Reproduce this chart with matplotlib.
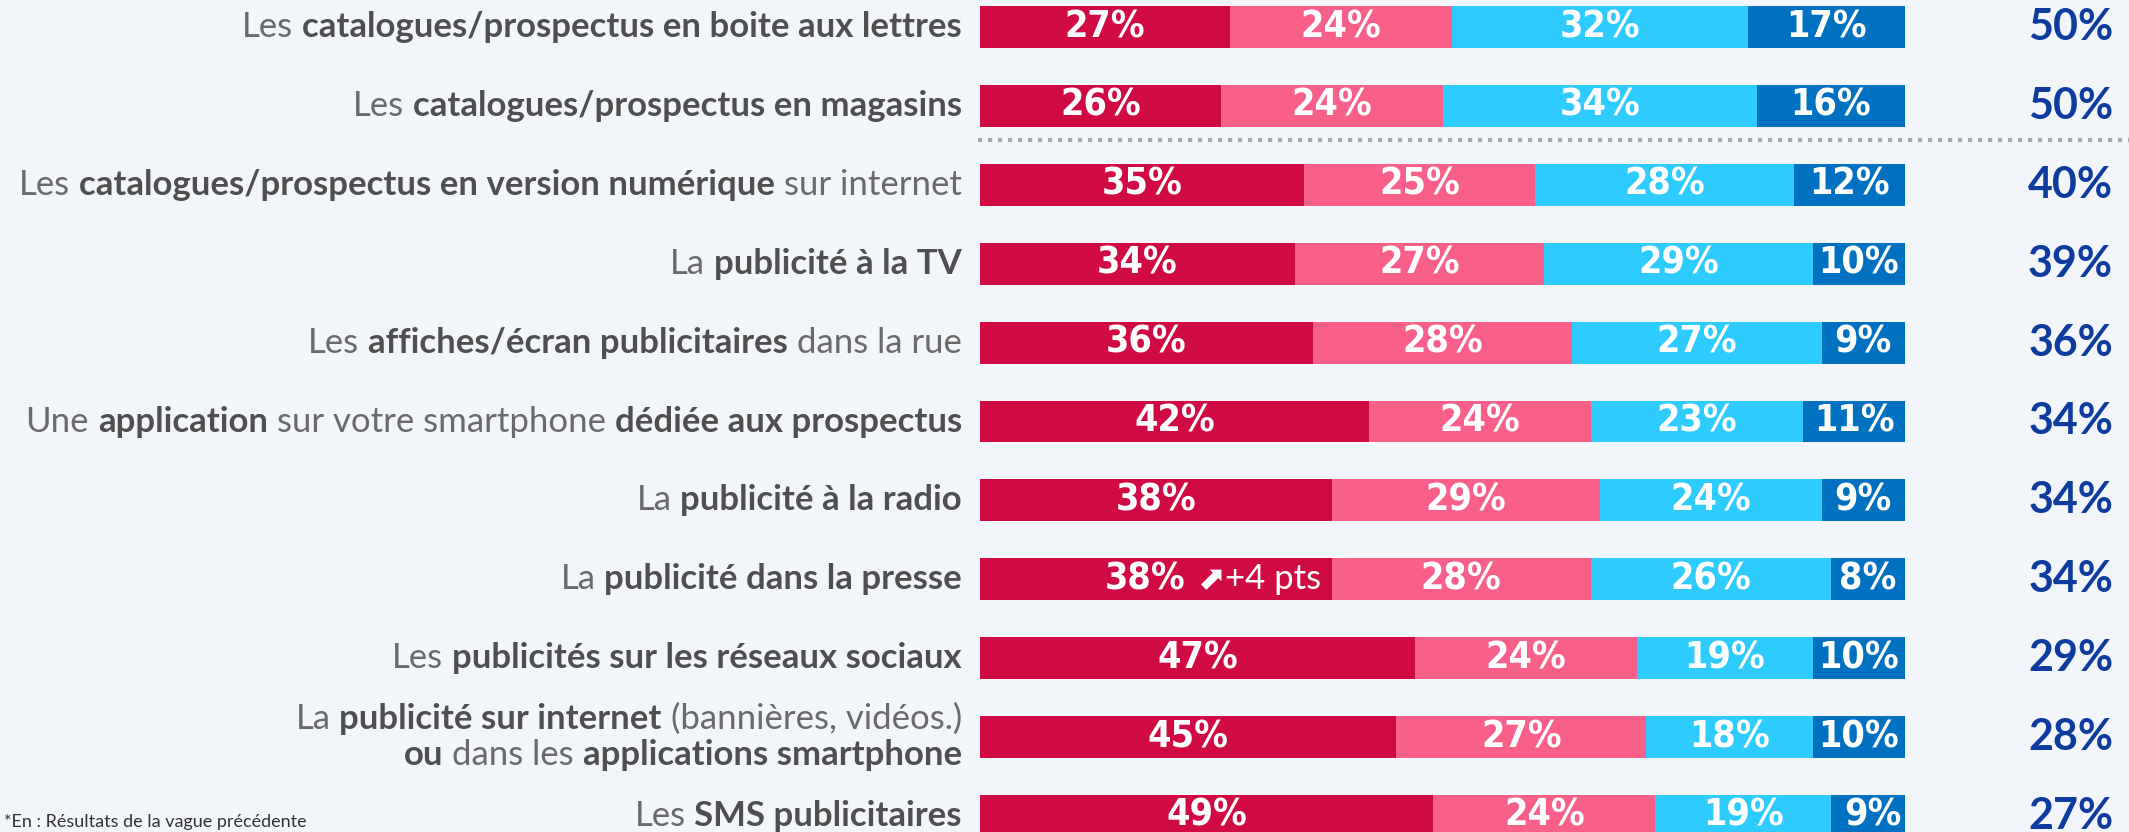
import matplotlib.pyplot as plt
from matplotlib import font_manager
import numpy as np

# --- data -------------------------------------------------------------
labels = [
    [[("Les", False), ("catalogues/prospectus en boite aux lettres", True)]],
    [[("Les", False), ("catalogues/prospectus en magasins", True)]],
    [[("Les", False), ("catalogues/prospectus en version numérique", True), ("sur internet", False)]],
    [[("La", False), ("publicité à la TV", True)]],
    [[("Les", False), ("affiches/écran publicitaires", True), ("dans la rue", False)]],
    [[("Une", False), ("application", True), ("sur votre smartphone", False), ("dédiée aux prospectus", True)]],
    [[("La", False), ("publicité à la radio", True)]],
    [[("La", False), ("publicité dans la presse", True)]],
    [[("Les", False), ("publicités sur les réseaux sociaux", True)]],
    [[("La", False), ("publicité sur internet", True), ("(bannières, vidéos.)", False)],
     [("ou", True), ("dans les", False), ("applications smartphone", True)]],
    [[("Les", False), ("SMS publicitaires", True)]],
]
s1 = [27, 26, 35, 34, 36, 42, 38, 38, 47, 45, 49]
s2 = [24, 24, 25, 27, 28, 24, 29, 28, 24, 27, 24]
s3 = [32, 34, 28, 29, 27, 23, 24, 26, 19, 18, 19]
s4 = [17, 16, 12, 10, 9, 11, 9, 8, 10, 10, 9]
totals = [50, 50, 40, 39, 36, 34, 34, 34, 29, 28, 27]
evo_row = 7
evo_text = "+4 pts"

colors = ["#D00B43", "#F8608A", "#2ECBFF", "#0070C0"]
bg = "#F2F5FA"

# condensed face for the numbers in the bars, if there is one
narrow = [f for f in font_manager.fontManager.ttflist
          if "Narrow" in f.fname or "Condensed" in f.fname]
narrow_bold = [f for f in narrow if "Bold" in f.fname and "Oblique" not in f.fname
               and "Italic" not in f.fname]
if narrow_bold:
    bar_fp = font_manager.FontProperties(fname=narrow_bold[0].fname, size=27)
else:
    bar_fp = font_manager.FontProperties(family="Lato", weight="bold", size=25)

W, H = 2129, 832
fig = plt.figure(figsize=(W / 100, H / 100), dpi=100, facecolor=bg)

row_px0, row_step = 27, 78.9
ax = fig.add_axes([980 / W, 0, 925 / W, 1])
ax.set_facecolor(bg)
ax.set_xlim(0, 100)
ax.set_ylim((H - row_px0) / row_step, -row_px0 / row_step)
ax.axis("off")

y = np.arange(len(s1))
series = [s1, s2, s3, s4]
left = np.zeros(len(s1))
for vals, c in zip(series, colors):
    vals = np.array(vals, dtype=float)
    ax.barh(y, vals, left=left, height=0.53, color=c, edgecolor="none")
    for i, v in enumerate(vals):
        if i == evo_row and c == colors[0]:
            continue
        cx = left[i] + v / 2
        ax.text(cx, i, f"{int(v)}%", ha="center", va="center", color="white",
                fontproperties=bar_fp)
    left += vals

# evolution annotation on row "presse"
cx = s1[evo_row] / 2
ax.text(cx + 3.2, evo_row, f"{s1[evo_row]}%", ha="right", va="center", color="white",
        fontproperties=bar_fp)
ax.text(cx + 6.0, evo_row, "⬈", ha="center", va="center", color="white",
        fontsize=24, family="DejaVu Sans")
ax.text(cx + 7.5, evo_row, evo_text, ha="left", va="center", color="white",
        fontsize=25, family="Lato")

# totals column
for i, t in enumerate(totals):
    ax.text(117.9, i, f"{t}%", ha="center", va="center", color="#0D3B9E",
            fontsize=31, fontweight="bold", family="Lato")

# dotted separator
ax.plot([-0.2, 125], [1.43, 1.43], color="#A8A8A8", lw=3,
        linestyle=(0, (1, 1.4)), clip_on=False)

# labels made of regular / bold pieces, right aligned
fig.canvas.draw()
renderer = fig.canvas.get_renderer()
lab_size = 25
inv = ax.transData.inverted()


def piece_width(txt, bold):
    t = fig.text(0, 0, txt, fontsize=lab_size, family="Lato",
                 fontweight="bold" if bold else "normal")
    w = t.get_window_extent(renderer).width
    t.remove()
    return w


space_px = piece_width("a a", False) - piece_width("aa", False)
right_px = 962
for i, lines in enumerate(labels):
    n = len(lines)
    for k, line in enumerate(lines):
        yy = i + (k - (n - 1) / 2) * 0.46
        x_px = right_px
        for txt, bold in reversed(line):
            xd = inv.transform((x_px, 0))[0]
            ax.text(xd, yy, txt, ha="right", va="center", fontsize=lab_size,
                    family="Lato", fontweight="bold" if bold else "normal",
                    color="#4F4F4F" if bold else "#6A6A6A", clip_on=False)
            x_px -= piece_width(txt, bold) + space_px

fig.text(0.002, 0.003, "*En : Résultats de la vague précédente", fontsize=13,
         family="Lato", color="#333333", va="bottom", ha="left")

fig.savefig("out.png", dpi=100, facecolor=bg)
